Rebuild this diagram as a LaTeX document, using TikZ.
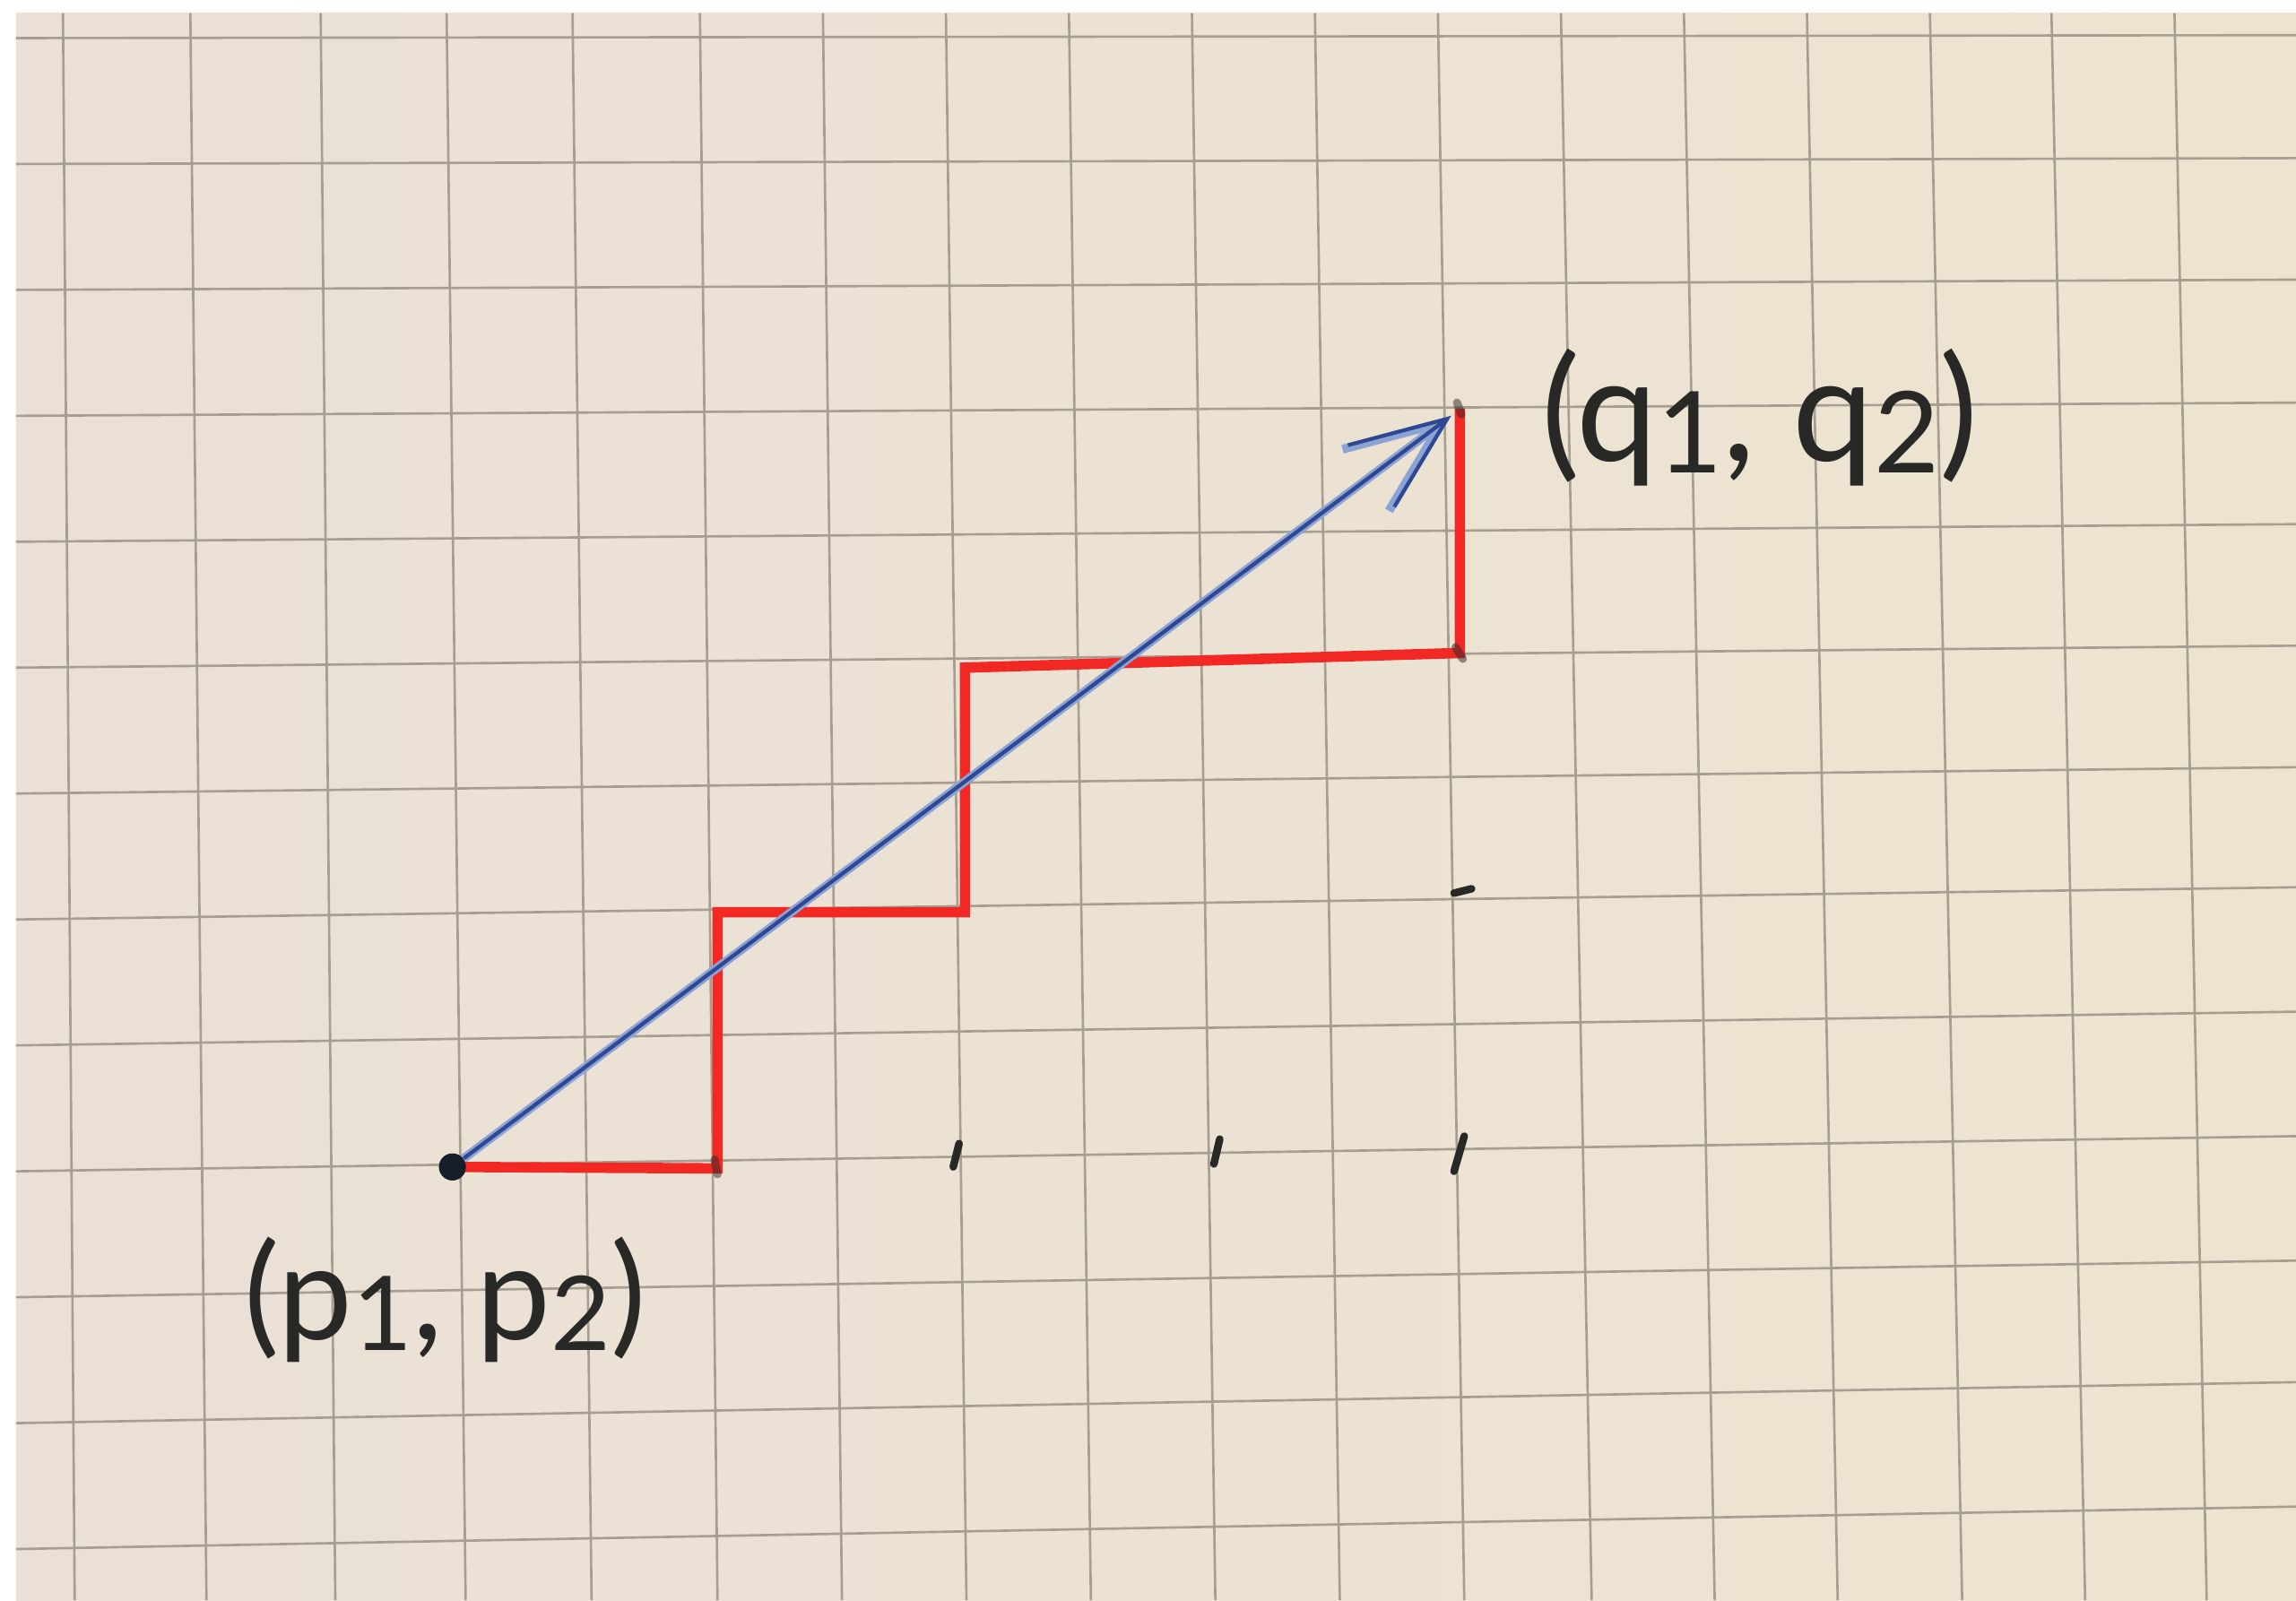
\documentclass[tikz,border=0pt]{standalone}
\usepackage{fontspec}
\usepackage{graphicx}
\newfontfamily\hand{Lato}
\usetikzlibrary{arrows.meta}
\definecolor{paperL}{RGB}{234,224,214}
\definecolor{paperR}{RGB}{237,228,208}
\definecolor{gridc}{RGB}{166,158,144}
\definecolor{redpen}{RGB}{242,40,36}
\definecolor{bluepen}{RGB}{48,72,148}
\definecolor{bluehalo}{RGB}{140,164,212}
\definecolor{ink}{RGB}{40,40,38}
\definecolor{dotc}{RGB}{22,30,42}
\newcommand\hsub[1]{\raisebox{-0.08em}{\scalebox{0.78}{#1}}}
\begin{document}
\begin{tikzpicture}[x=0.16333mm,y=-0.16333mm,
  gridline/.style={draw=gridc,line width=0.75pt},
  redpath/.style={draw=redpen,line width=3.3pt,line join=miter},
  arrowhalo/.style={draw=bluehalo,line width=2.8pt,-{Straight Barb[length=10.6mm,width=8.6mm]}},
  arrowink/.style={draw=bluepen,line width=1.2pt,-{Straight Barb[length=10.6mm,width=8.6mm]}},
  tickmark/.style={draw=ink,line width=2.4pt,line cap=round},
  cornermark/.style={draw=ink,line width=2.6pt,line cap=round,opacity=0.5},
  handlabel/.style={text=ink,inner sep=0pt},
  dotnode/.style={circle,fill=dotc,minimum size=3.0mm,inner sep=0pt}
]
\useasboundingbox (0,0) rectangle (1568,1093);
\fill[white] (0,0) rectangle (1568,1093);
\shade[left color=paperL,right color=paperR] (11,9) rectangle (1568,1093);
% grid
\foreach \t/\b in {43/51,130/141,219/229,305/318,391/404,478/490,562/575,646/660,730/745,814/830,898/915,982/1000,1066/1087,1150/1171,1234/1255,1318/1340,1401/1424,1485/1507}
  \draw[gridline] (\t,9) -- (\b,1093);
\foreach \l/\r in {26/24,112/108,198/191,284/275,370/358,456/441,542/524,628/606,714/691,800/776,886/861,972/944,1058/1029}
  \draw[gridline] (11,\l) -- (1568,\r);
% pencil ticks
\draw[tickmark] (651,797) -- (655,781);
\draw[tickmark] (829,795) -- (833,778);
\draw[tickmark] (993,800) -- (1000,776);
\draw[tickmark] (993,610) -- (1005,607);
% points
\node[dotnode] (p) at (309,797) {};
\coordinate (c1) at (490,798);
\coordinate (c2) at (490,623);
\coordinate (c3) at (659,623);
\coordinate (c4) at (659,456);
\coordinate (c5) at (997,446);
\coordinate (q) at (997,279);
\coordinate (qt) at (991,284);
% red staircase
\draw[redpath] (p.center) -- (c1) -- (c2) -- (c3) -- (c4) -- (c5) -- (q);
\draw[cornermark] (488,792) -- (490,802);
\draw[cornermark] (994,442) -- (999,450);
\draw[cornermark] (995,275) -- (998,283);
% blue arrow
\draw[arrowhalo] (p) -- (qt);
\draw[arrowink] (p) -- (qt);
\node[dotnode] at (p) {};
% labels
\node[handlabel,font=\hand\fontsize{46}{46}\selectfont] (qlabel) at (1202,285) {(q\hsub{1}, q\hsub{2})};
\node[handlabel,font=\hand\fontsize{42}{42}\selectfont] (plabel) at (304,888) {(p\hsub{1}, p\hsub{2})};
\end{tikzpicture}
\end{document}
